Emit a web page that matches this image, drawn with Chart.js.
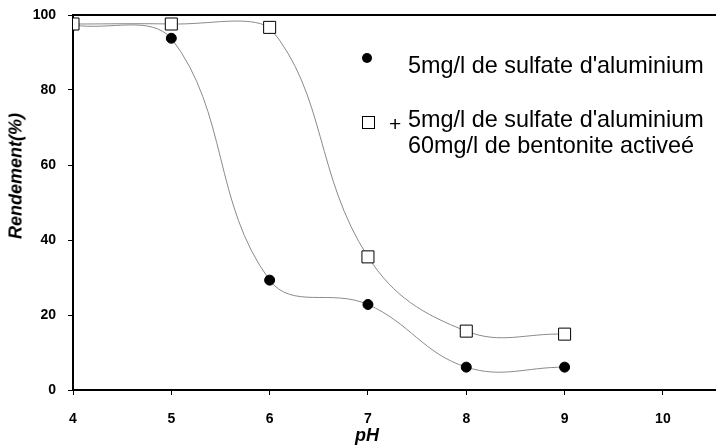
<!DOCTYPE html>
<html><head><meta charset="utf-8">
<script src="https://cdn.jsdelivr.net/npm/chart.js@4/dist/chart.umd.min.js"></script>
<style>
html,body{margin:0;padding:0;background:#fff;}
#wrap{position:relative;width:716px;height:447px;}
canvas{position:absolute;left:0;top:0;}
.lg{position:absolute;font-family:"Liberation Sans",Arial,sans-serif;font-size:23.4px;color:#000;white-space:nowrap;line-height:26px;}
.ttl{position:absolute;font-family:"Liberation Sans",Arial,sans-serif;font-weight:bold;font-style:italic;font-size:18px;color:#000;white-space:nowrap;}
.mk{position:absolute;box-sizing:border-box;}
</style></head>
<body><div id="wrap"><canvas id="c" width="716" height="447"></canvas>
<div class="mk" style="left:362px;top:53px;width:10px;height:10px;border-radius:50%;background:#000;"></div>
<div class="lg" style="left:408px;top:52px;">5mg/l de sulfate d'aluminium</div>
<div class="mk" style="left:362px;top:116px;width:13px;height:13px;border:1px solid #000;background:#fff;"></div>
<div class="lg" style="left:389px;top:111px;font-size:21px;">+</div>
<div class="lg" style="left:408px;top:106px;">5mg/l de sulfate d'aluminium<br>60mg/l de bentonite activeé</div>
<div class="ttl" style="left:355px;top:425px;">pH</div>
<div class="ttl" style="left:16px;top:176px;transform:translate(-50%,-50%) rotate(-90deg);">Rendement(%)</div>
</div>
<script>
const phValues = [4, 5, 6, 7, 8, 9];
const sulfateOnly = [97.3, 93.8, 29.3, 22.8, 6.1, 6.1];
const sulfateBentonite = [97.6, 97.6, 96.7, 35.5, 15.7, 14.9];
const xTickValues = [4, 5, 6, 7, 8, 9, 10];
const yTickValues = [0, 20, 40, 60, 80, 100];

const tickFont = {family: '"Liberation Sans", Arial, sans-serif', size: 14, weight: 'bold'};
const pts = (ys) => phValues.map((x, i) => ({x, y: ys[i]}));

new Chart(document.getElementById('c'), {
  type: 'scatter',
  data: {datasets: [
    {data: pts(sulfateBentonite), showLine: true, tension: 0.4, borderColor: '#8a8a8a', borderWidth: 1,
     pointStyle: 'rect', pointRadius: 8.5, pointBackgroundColor: '#fff', pointBorderColor: '#000', pointBorderWidth: 1},
    {data: pts(sulfateOnly), showLine: true, tension: 0.4, borderColor: '#8a8a8a', borderWidth: 1,
     pointStyle: 'circle', pointRadius: 5, pointBackgroundColor: '#000', pointBorderColor: '#000', pointBorderWidth: 1}
  ]},
  options: {
    responsive: false, animation: false, events: [],
    layout: {autoPadding: false, padding: {top: 15, left: 0, right: 0, bottom: 0}},
    plugins: {legend: {display: false}, tooltip: {enabled: false}},
    scales: {
      x: {type: 'linear', min: 4, max: 10.54, position: 'bottom',
          afterBuildTicks: s => { s.ticks = xTickValues.map(v => ({value: v})); },
          afterFit: s => { s.height = 57; s.paddingLeft = 0; s.paddingRight = 0; },
          grid: {display: true, drawOnChartArea: false, drawTicks: true, tickLength: 5, color: '#000', tickWidth: 1},
          border: {display: true, color: '#000', width: 2},
          ticks: {font: tickFont, color: '#000', padding: 16, maxRotation: 0}},
      xTop: {type: 'linear', min: 4, max: 10.54, position: 'top', display: true,
          afterFit: s => { s.height = 0; s.paddingLeft = 0; s.paddingRight = 0; },
          grid: {display: false, drawTicks: false}, border: {display: true, color: '#000', width: 2},
          ticks: {display: false}},
      y: {min: 0, max: 100,
          afterBuildTicks: s => { s.ticks = yTickValues.map(v => ({value: v})); },
          afterFit: s => { s.width = 73; s.paddingTop = 0; s.paddingBottom = 0; },
          grid: {display: true, drawOnChartArea: false, drawTicks: true, tickLength: 5, color: '#000', tickWidth: 1},
          border: {display: true, color: '#000', width: 2},
          ticks: {font: tickFont, color: '#000', padding: 12}}
    }
  }
});
</script></body></html>
